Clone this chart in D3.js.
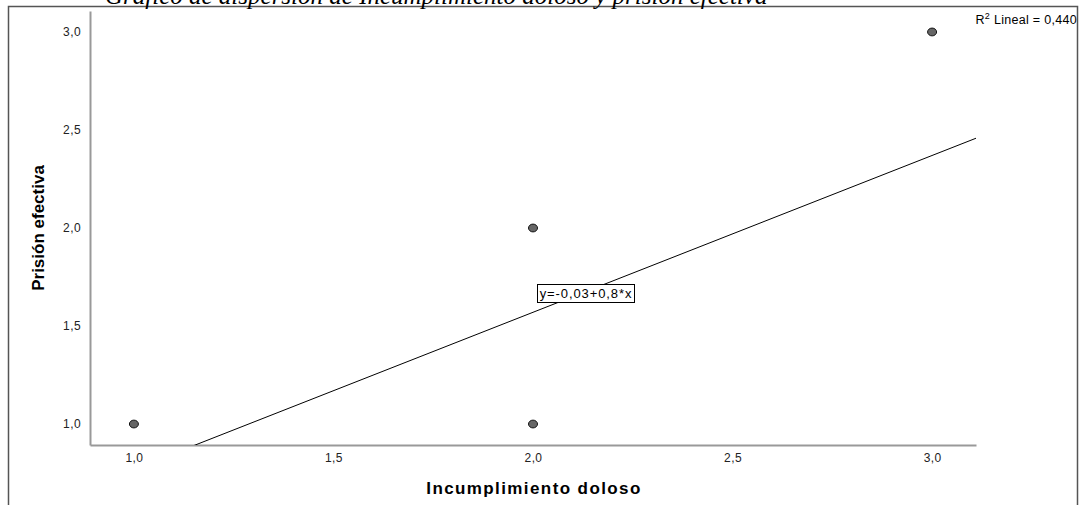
<!DOCTYPE html>
<html>
<head>
<meta charset="utf-8">
<script src="https://cdn.jsdelivr.net/npm/d3@7"></script>
<style>
  body { margin: 0; background: #fff; }
  svg { display: block; font-family: "Liberation Sans", Arial, sans-serif; }
</style>
</head>
<body>
<svg id="chart" width="1081" height="505"></svg>
<script>
// Data
const xValues = [1, 2, 2, 3];
const yValues = [1, 2, 1, 3];
const xTicks = [1.0, 1.5, 2.0, 2.5, 3.0];
const yTicks = [1.0, 1.5, 2.0, 2.5, 3.0];
const fitIntercept = -0.03;
const fitSlope = 0.8;
const r2Text = '0,440';
const eqText = 'y=-0,03+0,8*x';
const titleText = 'Gráfico de dispersión de Incumplimiento doloso y prisión efectiva';

const svg = d3.select('#chart');
const fmt = d => d.toFixed(1).replace('.', ',');

// Plot area
const plotLeft = 90, plotRight = 976, plotTop = 11, plotBottom = 445;

const xScale = d3.scaleLinear().domain([0.89, 3.11]).range([plotLeft, plotRight]);
const yScale = d3.scaleLinear().domain([0.893, 3.107]).range([plotBottom, plotTop]);

// Outer frame
svg.append('path')
    .attr('d', 'M8.5,505 V6.5 H1077.5 V505')
    .attr('fill', 'none')
    .attr('stroke', '#555')
    .attr('stroke-width', 1.5);

// Title, cut off at the top of the image
svg.append('text')
    .attr('x', 105)
    .attr('y', 4)
    .style('font-family', '"Liberation Serif", "Times New Roman", serif')
    .style('font-style', 'italic')
    .style('font-size', '25px')
    .attr('fill', '#000')
    .text(titleText);

// X axis
const xAxis = svg.append('g')
    .attr('transform', `translate(0,${plotBottom})`)
    .call(d3.axisBottom(xScale).tickValues(xTicks).tickSize(0).tickPadding(8).tickFormat(fmt));
xAxis.select('.domain').attr('stroke', '#999').attr('stroke-width', 2);
xAxis.selectAll('text').style('font-size', '12px').style('letter-spacing', '0.4px').attr('fill', '#222')
    .style('font-family', '"Liberation Sans", Arial, sans-serif');

// Y axis
const yAxis = svg.append('g')
    .attr('transform', `translate(${plotLeft},0)`)
    .call(d3.axisLeft(yScale).tickValues(yTicks).tickSize(0).tickPadding(9).tickFormat(fmt));
yAxis.select('.domain').attr('stroke', '#999').attr('stroke-width', 2);
yAxis.selectAll('text').style('font-size', '12px').style('letter-spacing', '0.4px').attr('fill', '#222')
    .style('font-family', '"Liberation Sans", Arial, sans-serif');

// Axis titles
svg.append('text')
    .attr('x', 534)
    .attr('y', 494)
    .attr('text-anchor', 'middle')
    .style('font-size', '17px')
    .style('letter-spacing', '1.4px')
    .style('font-weight', 'bold')
    .text('Incumplimiento doloso');

svg.append('text')
    .attr('transform', `translate(44,228) rotate(-90)`)
    .attr('text-anchor', 'middle')
    .style('font-size', '17px')
    .style('font-weight', 'bold')
    .text('Prisión efectiva');

// Fit line, clipped to the plot area
svg.append('clipPath').attr('id', 'plotClip')
    .append('rect')
    .attr('x', plotLeft).attr('y', plotTop)
    .attr('width', plotRight - plotLeft).attr('height', plotBottom - plotTop);

const xDom = xScale.domain();
svg.append('line')
    .attr('clip-path', 'url(#plotClip)')
    .attr('x1', xScale(xDom[0]))
    .attr('y1', yScale(fitIntercept + fitSlope * xDom[0]))
    .attr('x2', xScale(xDom[1]))
    .attr('y2', yScale(fitIntercept + fitSlope * xDom[1]))
    .attr('stroke', '#000')
    .attr('stroke-width', 1);

// Points
svg.selectAll('.dot')
    .data(xValues.map((x, i) => ({x: x, y: yValues[i]})))
    .enter()
    .append('ellipse')
    .attr('class', 'dot')
    .attr('cx', d => xScale(d.x))
    .attr('cy', d => yScale(d.y))
    .attr('rx', 4.5)
    .attr('ry', 3.9)
    .attr('fill', '#666')
    .attr('stroke', '#111')
    .attr('stroke-width', 1);

// Equation label
const eqX = 586, eqY = 293;
const eqG = svg.append('g');
const eqLabel = eqG.append('text')
    .attr('x', eqX)
    .attr('y', eqY + 5)
    .attr('text-anchor', 'middle')
    .style('font-size', '13px')
    .style('letter-spacing', '0.9px')
    .text(eqText);
const bb = eqLabel.node().getBBox();
eqG.insert('rect', 'text')
    .attr('x', Math.round(bb.x) - 2.5)
    .attr('y', eqY - 8.5)
    .attr('width', Math.round(bb.width) + 4)
    .attr('height', 18)
    .attr('fill', '#fff')
    .attr('stroke', '#000')
    .attr('stroke-width', 1);

// R² label
const r2 = svg.append('text')
    .attr('x', 1077)
    .attr('y', 24)
    .attr('text-anchor', 'end')
    .style('font-size', '12.5px')
    .style('letter-spacing', '0.3px')
    .attr('fill', '#000');
r2.append('tspan').text('R');
r2.append('tspan').attr('baseline-shift', 'super').style('font-size', '9px').text('2');
r2.append('tspan').text(' Lineal = ' + r2Text);
</script>
</body>
</html>
